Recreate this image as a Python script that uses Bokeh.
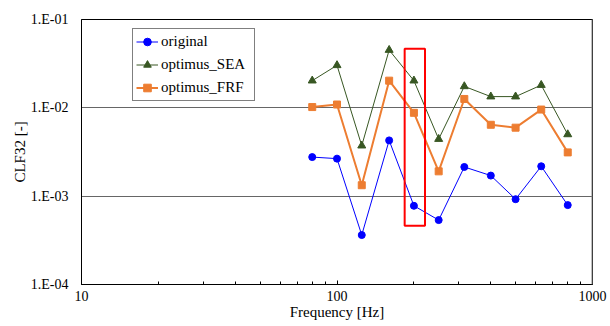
from bokeh.plotting import figure
from bokeh.models import FixedTicker, CustomJSTickFormatter, Span, Legend
from bokeh.embed import file_html
from bokeh.resources import INLINE

# ---- data ----
freq = [80, 100, 125, 160, 200, 250, 315, 400, 500, 630, 800]
original = [2.77e-3, 2.66e-3, 3.63e-4, 4.28e-3, 7.78e-4, 5.36e-4, 2.14e-3, 1.71e-3, 9.24e-4, 2.18e-3, 7.92e-4]
optimus_sea = [2.03e-2, 3.03e-2, 3.73e-3, 4.51e-2, 2.03e-2, 4.43e-3, 1.75e-2, 1.34e-2, 1.34e-2, 1.81e-2, 5.0e-3]
optimus_frf = [1.02e-2, 1.09e-2, 1.33e-3, 2.03e-2, 8.78e-3, 1.91e-3, 1.26e-2, 6.43e-3, 5.96e-3, 9.56e-3, 3.13e-3]
highlight_x = [184, 221]
highlight_y = [4.62e-4, 4.67e-2]
x_ticks = [10, 100, 1000]
x_minor = [m * d for d in (10, 100) for m in range(2, 10)]
y_ticks = [1e-4, 1e-3, 1e-2, 1e-1]

FONT = "Liberation Serif"

p = figure(width=610, height=326, x_axis_type="log", y_axis_type="log",
           x_range=(x_ticks[0], x_ticks[-1]), y_range=(y_ticks[0], y_ticks[-1]),
           output_backend="svg", toolbar_location=None,
           min_border_left=81, min_border_top=19, min_border_right=18, min_border_bottom=42)
p.background_fill_color = "white"
p.border_fill_color = "white"
p.outline_line_color = "black"
p.outline_line_width = 1

# axes
p.xaxis.ticker = FixedTicker(ticks=x_ticks, minor_ticks=x_minor)
p.xaxis.formatter = CustomJSTickFormatter(code="return Math.round(tick).toString();")
p.xaxis.major_tick_in = 4
p.xaxis.major_tick_out = 0
p.xaxis.minor_tick_in = 3
p.xaxis.minor_tick_out = 0
p.xaxis.axis_line_color = "black"
p.xaxis.major_tick_line_color = "black"
p.xaxis.minor_tick_line_color = "black"
p.xaxis.major_label_standoff = 6
p.xaxis.axis_label = "Frequency [Hz]"
p.xaxis.axis_label_standoff = 0
p.xaxis.axis_label_text_font = FONT
p.xaxis.axis_label_text_font_style = "normal"
p.xaxis.axis_label_text_font_size = "15px"
p.xaxis.axis_label_text_color = "black"
p.xaxis.major_label_text_font = FONT
p.xaxis.major_label_text_font_size = "14px"
p.xaxis.major_label_text_color = "black"

p.yaxis.ticker = FixedTicker(ticks=y_ticks, minor_ticks=[])
p.yaxis.formatter = CustomJSTickFormatter(code="""
const e = Math.round(Math.log10(tick));
return '1.E' + (e < 0 ? '-' : '+') + String(Math.abs(e)).padStart(2, '0');
""")
p.yaxis.major_tick_in = 0
p.yaxis.major_tick_out = 0
p.yaxis.minor_tick_in = 0
p.yaxis.minor_tick_out = 0
p.yaxis.axis_line_color = "black"
p.yaxis.major_label_standoff = 13
p.yaxis.major_label_text_font = FONT
p.yaxis.major_label_text_font_size = "14px"
p.yaxis.major_label_text_color = "black"
p.yaxis.axis_label = "CLF32 [-]"
p.yaxis.axis_label_standoff = 0
p.yaxis.axis_label_text_font = FONT
p.yaxis.axis_label_text_font_style = "normal"
p.yaxis.axis_label_text_font_size = "15px"
p.yaxis.axis_label_text_color = "black"

p.xgrid.visible = False
p.ygrid.ticker = FixedTicker(ticks=y_ticks, minor_ticks=[])
p.ygrid.grid_line_color = "#666666"
p.ygrid.grid_line_width = 1

# right border (gray)
p.add_layout(Span(location=x_ticks[-1], dimension="height", line_color="#808080", line_width=2))

BLUE = "#0000FF"
GREEN = "#385723"
ORANGE = "#ED7D31"

r1l = p.line(freq, original, line_color=BLUE, line_width=1)
r1m = p.scatter(freq, original, marker="circle", size=7, fill_color=BLUE, line_color=BLUE)
r2l = p.line(freq, optimus_sea, line_color=GREEN, line_width=1)
r2m = p.scatter(freq, optimus_sea, marker="triangle", size=8, fill_color=GREEN, line_color=GREEN)
r3l = p.line(freq, optimus_frf, line_color=ORANGE, line_width=2)
r3m = p.scatter(freq, optimus_frf, marker="square", size=7, fill_color=ORANGE, line_color=ORANGE)

p.quad(left=[highlight_x[0]], right=[highlight_x[1]], bottom=[highlight_y[0]], top=[highlight_y[1]],
       fill_alpha=0, line_color="#FF0000", line_width=2)

legend = Legend(items=[("original", [r1l, r1m]), ("optimus_SEA", [r2l, r2m]), ("optimus_FRF", [r3l, r3m])],
                location=(51, 183))
legend.label_text_font = FONT
legend.label_text_font_size = "15px"
legend.label_text_color = "black"
legend.border_line_color = "black"
legend.border_line_width = 1
legend.background_fill_color = "white"
legend.background_fill_alpha = 1
legend.glyph_width = 22
legend.glyph_height = 19
legend.label_height = 19
legend.label_width = 90
legend.label_standoff = 3
legend.spacing = 4
legend.padding = 3
legend.margin = 0
p.add_layout(legend)

open("out.html", "w").write(file_html(p, INLINE))
